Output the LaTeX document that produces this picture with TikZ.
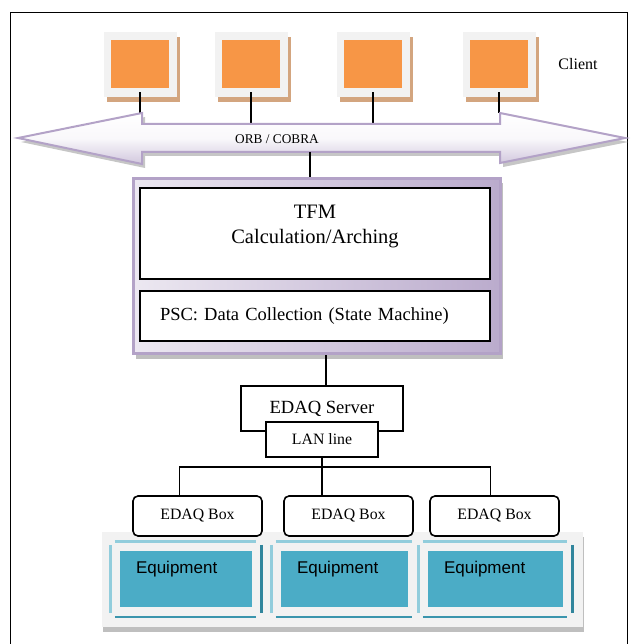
\documentclass[tikz,border=0pt]{standalone}
\usepackage{fontspec}
\setmainfont{Liberation Serif}
\setsansfont{Liberation Sans}
\usetikzlibrary{positioning, calc, shadows}
\definecolor{lav}{HTML}{B3A2C7}
\definecolor{clientorange}{HTML}{F79646}
\definecolor{clienttan}{HTML}{D3A57F}
\definecolor{paper}{HTML}{F2F2F2}
\definecolor{eqteal}{HTML}{4BACC6}
\definecolor{eqlight}{HTML}{92CDDC}
\definecolor{eqdark}{HTML}{31859C}
\newcommand{\orbpath}{(18,138) -- (142,113) -- (142,124) -- (500,124) -- (500,113) -- (625,138) -- (500,163) -- (500,152) -- (142,152) -- (142,164) -- cycle}

\begin{document}
\begin{tikzpicture}[
    x=1pt, y=-1pt,
    client/.style={rectangle, fill=paper, minimum width=73pt, minimum height=65pt, inner sep=0pt,
        drop shadow={shadow xshift=3pt, shadow yshift=-5pt, fill=clienttan, opacity=1}},
    screen/.style={rectangle, fill=clientorange, minimum width=58pt, minimum height=48pt, inner sep=0pt},
    box/.style={rectangle, draw, line width=1.6pt, fill=white, inner sep=0pt},
    edaqbox/.style={box, rounded corners=5pt, minimum width=129pt, minimum height=40pt, font=\fontsize{15.8}{18}\selectfont},
    eqbox/.style={rectangle, fill=eqteal, minimum height=56pt, inner sep=0pt},
    eqlabel/.style={anchor=base west, inner sep=0pt, font=\sffamily\fontsize{17}{20}\selectfont},
    wire/.style={line width=1.6pt}
]
\useasboundingbox (0,0) rectangle (630,644);
\draw[line width=1.8pt] (10.5,660) |- (627.5,12.5) -- (627.5,660);

% clients
\node[client] (c1) at (140,64.5) {};
\node[client] (c2) at (251,64.5) {};
\node[client] (c3) at (373,64.5) {};
\node[client] (c4) at (499,64.5) {};
\node[screen] (s1) at (c1) {};
\node[screen] (s2) at (c2) {};
\node[screen] (s3) at (c3) {};
\node[screen] (s4) at (c4) {};
\node[font=\fontsize{16}{19}\selectfont] (clientlabel) at (578,64) {Client};

% ORB / COBRA bus
\coordinate (orbLtop) at (142,113);
\coordinate (orbRtop) at (500,113);
\coordinate (orbtop) at (321,124);
\coordinate (orbbot) at (310,152);
\draw[wire] ([yshift=5pt]c1.south) -- (c1.south |- orbLtop);
\draw[wire] ([yshift=5pt]c2.south) -- (c2.south |- orbtop);
\draw[wire] ([yshift=5pt]c3.south) -- (c3.south |- orbtop);
\draw[wire] ([yshift=5pt]c4.south) -- (c4.south |- orbRtop);
\fill[gray!45, shift={(3pt,-4pt)}] \orbpath;
\path[draw=lav, line width=2pt, top color=white, bottom color=lav!60, middle color=lav!8] \orbpath;
\node[font=\fontsize{13.3}{16}\selectfont] (orb) at (277,139) {ORB / COBRA};

% server block
\draw[wire] (orbbot) -- (orbbot |- 0,178);
\node[rectangle, draw=lav, line width=3pt, left color=lav!25, right color=lav!90,
    minimum width=367pt, minimum height=175pt, inner sep=0pt,
    drop shadow={shadow xshift=2pt, shadow yshift=-5pt, fill=gray!50, opacity=1}] (frame) at (317,266) {};
\node[box, minimum width=350pt, minimum height=91pt] (tfm) at (315,233.5) {};
\node[font=\fontsize{20.5}{25}\selectfont, align=center, inner sep=0pt, below=18pt of tfm.north] (tfmtext) {TFM\\Calculation/Arching};
\node[box, minimum width=350pt, minimum height=50pt, text width=310pt, align=left, inner xsep=20pt,
    font=\fontsize{18.5}{22}\selectfont] (psc) at (315,316) {PSC: Data Collection (State Machine)};

% EDAQ server and LAN
\node[box, minimum width=162pt, minimum height=45pt, font=\fontsize{18.6}{22}\selectfont] (server) at (322,408.5) {EDAQ Server};
\node[box, minimum width=112pt, minimum height=35pt, font=\fontsize{15.8}{18}\selectfont] (lan) at (322,439.5) {LAN line};
\draw[wire] ([xshift=4pt]server.north) -- ([xshift=4pt]server.north |- frame.south);

% equipment panel
\node[rectangle, fill=paper, minimum width=481pt, minimum height=95pt, inner sep=0pt,
    drop shadow={shadow xshift=1pt, shadow yshift=-5pt, fill=gray!50, opacity=1}] (panel) at (342.5,579.5) {};
\node[eqbox, minimum width=132pt] (eq1) at (186,579) {};
\node[eqbox, minimum width=127pt] (eq2) at (344.5,579) {};
\node[eqbox, minimum width=135pt] (eq3) at (495.5,579) {};
\foreach \u in {eq1,eq2,eq3} {
    \draw[eqlight, line width=2.5pt] ($(\u.north west)+(-9.5,-6)$) -- ($(\u.south west)+(-9.5,6)$);
    \draw[eqlight, line width=2.5pt] ($(\u.north west)+(-5,-9.5)$) -- ($(\u.north east)+(4,-9.5)$);
    \draw[eqdark!60!eqteal, line width=2.5pt] ($(\u.south west)+(-5,10)$) -- ($(\u.south east)+(4,10)$);
}
\foreach \u in {eq1,eq3}
    \draw[eqdark, line width=2.5pt] ($(\u.north east)+(9.5,-6)$) -- ($(\u.south east)+(9.5,6)$);
\node[eqlabel] (eqtext1) at ([shift={(16pt,-23pt)}]eq1.north west) {Equipment};
\node[eqlabel] (eqtext2) at ([shift={(16pt,-23pt)}]eq2.north west) {Equipment};
\node[eqlabel] (eqtext3) at ([shift={(16pt,-23pt)}]eq3.north west) {Equipment};

% EDAQ boxes
\node[edaqbox] (edaq1) at (197.5,516) {EDAQ Box};
\node[edaqbox] (edaq2) at (348.5,516) {EDAQ Box};
\node[edaqbox] (edaq3) at (494.5,516) {EDAQ Box};
\path (lan.south) ++(0,9) coordinate (bus);
\draw[wire] (lan.south) -- (lan.south |- edaq2.north);
\draw[wire] ([xshift=-18pt]edaq1.north) |- (bus) -| ([xshift=-4pt]edaq3.north);
\end{tikzpicture}
\end{document}
